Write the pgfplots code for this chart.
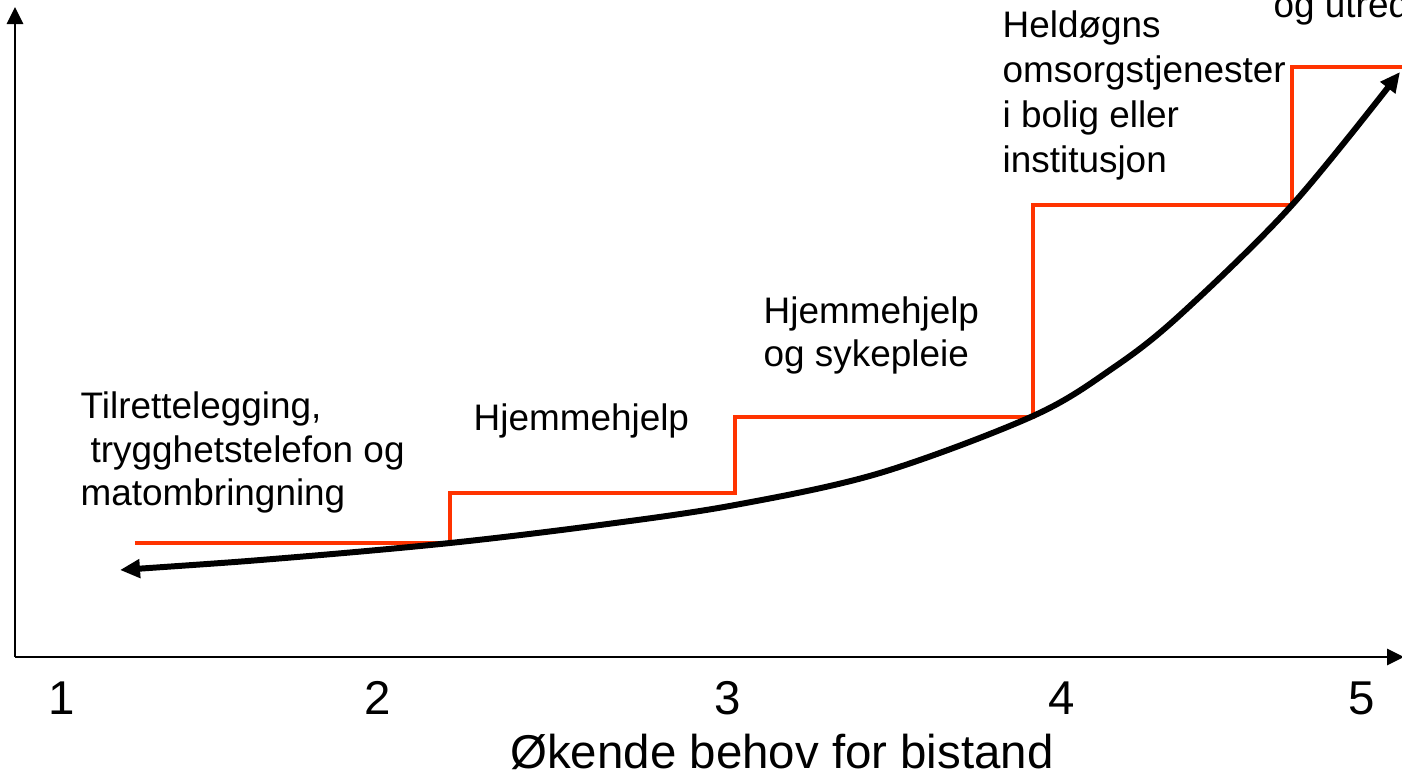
\documentclass[border=0pt]{standalone}
\usepackage{pgfplots}
\pgfplotsset{compat=1.18}
\usepackage{fontspec}
\setmainfont{Liberation Sans}
\usetikzlibrary{arrows.meta}
\definecolor{stepred}{RGB}{255,51,0}
\begin{document}
\begin{tikzpicture}
\clip (-0.15cm,-1.22cm) rectangle (13.87cm,6.57cm);
\begin{axis}[
  at={(0,0)}, anchor=south west,
  scale only axis, width=13.89cm, height=6.5cm,
  xmin=15, xmax=1404, ymin=0, ymax=650,
  axis lines=left,
  axis line style={line width=0.85pt, -{Triangle[length=1.7mm,width=1.6mm]}},
  ytick=\empty,
  xtick={62,378,728,1062,1362},
  xticklabels={1,2,3,4,5},
  major tick length=0pt,
  xticklabel style={font=\fontsize{13.5}{16}\selectfont, anchor=base, yshift=-5.7mm},
  xlabel={Økende behov for bistand},
  xlabel style={font=\fontsize{13.5}{16}\selectfont, at={(rel axis cs:0.5522,-0.1708)}, anchor=base},
  clip=false,
]
% red staircase
\addplot[const plot, color=stepred, line width=1.15pt] coordinates {
  (135,114) (450,164) (735,240) (1033,452) (1292,590) (1410,590)
};
% black curve
\addplot[smooth, tension=0.55, black, line width=1.7pt,
  {Triangle[length=2mm,width=1.8mm]}-{Triangle[length=2mm,width=1.8mm]}] coordinates {
  (120,87) (285,99) (450,114) (600,132) (735,152) (880,184) (1033,241)
  (1113,289) (1180,342) (1292,452) (1400,585)
};
\begin{scope}[font=\fontsize{10.5}{12.5}\selectfont]
\node[anchor=base west, inner sep=0] at (axis cs:80,239) {Tilrettelegging,};
\node[anchor=base west, inner sep=0] at (axis cs:90,195) {trygghetstelefon og};
\node[anchor=base west, inner sep=0] at (axis cs:80,152) {matombringning};
\node[anchor=base west, inner sep=0] at (axis cs:473,227) {Hjemmehjelp};
\node[anchor=base west, inner sep=0] at (axis cs:763,334) {Hjemmehjelp};
\node[anchor=base west, inner sep=0] at (axis cs:763,291) {og sykepleie};
\node[anchor=base west, inner sep=0] at (axis cs:1002,620) {Heldøgns};
\node[anchor=base west, inner sep=0] at (axis cs:1002,575) {omsorgstjenester};
\node[anchor=base west, inner sep=0] at (axis cs:1002,530) {i bolig eller};
\node[anchor=base west, inner sep=0] at (axis cs:1002,485) {institusjon};
\node[anchor=base west, inner sep=0] at (axis cs:1273,640) {og utredning};
\end{scope}
\end{axis}
\end{tikzpicture}
\end{document}
